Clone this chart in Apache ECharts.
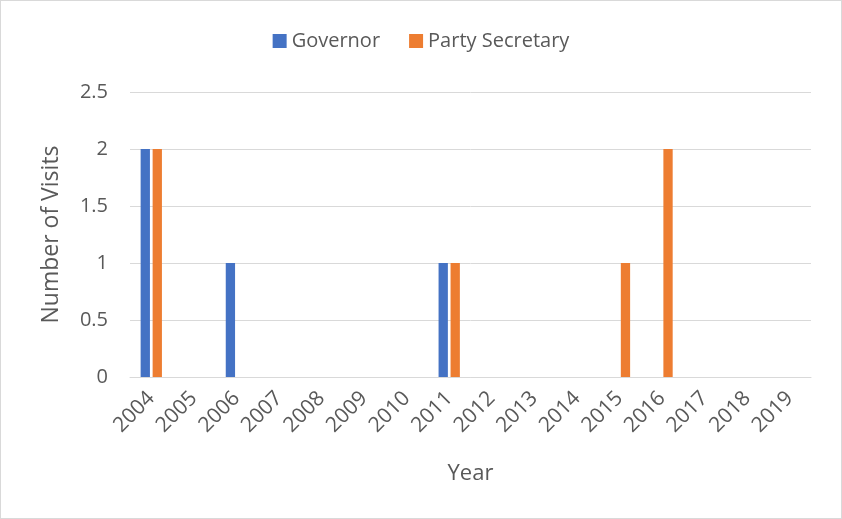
<!DOCTYPE html>
<html>
<head>
<meta charset="utf-8">
<script src="https://cdn.jsdelivr.net/npm/echarts@6/dist/echarts.min.js"></script>
<style>
  html, body { margin: 0; padding: 0; background: #fff; }
  #chart { width: 842px; height: 519px; box-sizing: border-box; border: 1px solid #d9d9d9; }
</style>
</head>
<body>
<div id="chart"></div>
<script>
// Visits per year by office holder
const years = ['2004','2005','2006','2007','2008','2009','2010','2011','2012','2013','2014','2015','2016','2017','2018','2019'];
const governorVisits = [2, 0, 1, 0, 0, 0, 0, 1, 0, 0, 0, 0, 0, 0, 0, 0];
const secretaryVisits = [2, 0, 0, 0, 0, 0, 0, 1, 0, 0, 0, 1, 2, 0, 0, 0];
const yTicks = { min: 0, max: 2.5, interval: 0.5 };

const textColor = '#595959';
const fontFamily = '"Open Sans", "Noto Sans", sans-serif';

const chart = echarts.init(document.getElementById('chart'), null, { renderer: 'canvas' });
chart.setOption({
  animation: false,
  textStyle: { fontFamily: fontFamily, color: textColor },
  legend: {
    top: 25,
    left: 'center',
    itemWidth: 14,
    itemHeight: 14,
    itemGap: 29,
    icon: 'rect',
    textStyle: { fontSize: 20, color: textColor, fontFamily: fontFamily },
    data: ['Governor', 'Party Secretary']
  },
  grid: { left: 129, right: 30, top: 91, bottom: 141, containLabel: false },
  xAxis: {
    type: 'category',
    data: years,
    name: 'Year',
    nameLocation: 'middle',
    nameGap: 86,
    nameTextStyle: { fontSize: 22, color: textColor },
    axisLine: { lineStyle: { color: '#d9d9d9', width: 1 } },
    axisTick: { show: false },
    axisLabel: { rotate: 45, fontSize: 21, color: textColor, margin: 18, interval: 0 }
  },
  yAxis: {
    type: 'value',
    min: yTicks.min,
    max: yTicks.max,
    interval: yTicks.interval,
    name: 'Number of Visits',
    nameLocation: 'middle',
    nameGap: 67,
    nameTextStyle: { fontSize: 23, color: textColor },
    axisLine: { show: false },
    axisTick: { show: false },
    axisLabel: { fontSize: 20, color: textColor, margin: 22 },
    splitLine: { lineStyle: { color: '#d9d9d9', width: 1 } }
  },
  series: [
    {
      name: 'Governor',
      type: 'bar',
      data: governorVisits,
      barWidth: 9.3,
      barGap: '29%',
      itemStyle: { color: '#4472C4' }
    },
    {
      name: 'Party Secretary',
      type: 'bar',
      data: secretaryVisits,
      barWidth: 9.3,
      itemStyle: { color: '#ED7D31' }
    }
  ]
});
</script>
</body>
</html>
